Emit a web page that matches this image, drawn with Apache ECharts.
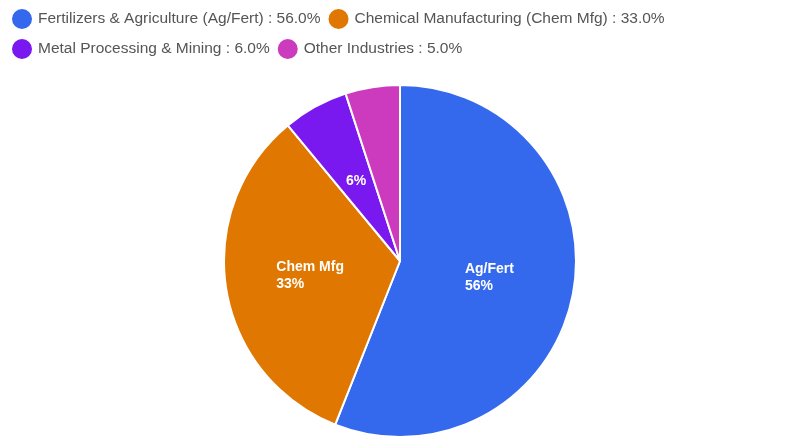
<!DOCTYPE html>
<html>
<head>
<meta charset="utf-8">
<script src="https://cdn.jsdelivr.net/npm/echarts@6/dist/echarts.min.js"></script>
<style>
html,body{margin:0;padding:0;background:#fff;}
#main{width:800px;height:440px;}
</style>
</head>
<body>
<div id="main"></div>
<script>
var names = ['Fertilizers & Agriculture (Ag/Fert)', 'Chemical Manufacturing (Chem Mfg)', 'Metal Processing & Mining', 'Other Industries'];
var shortNames = ['Ag/Fert', 'Chem Mfg', 'Metal', 'Other'];
var values = [56, 33, 6, 5];
var colors = ['#3469EE', '#DF7700', '#7A18F0', '#CC3BBE'];

var data = names.map(function (n, i) {
  return { name: n, value: values[i], shortName: shortNames[i], itemStyle: { color: colors[i] } };
});
var total = values.reduce(function (a, b) { return a + b; }, 0);

var chart = echarts.init(document.getElementById('main'));
chart.setOption({
  animation: false,
  legend: {
    left: 5,
    top: 2,
    width: 720,
    icon: 'circle',
    itemWidth: 22,
    itemHeight: 22,
    itemGap: 6,
    textStyle: { fontFamily: '"Liberation Sans", Arial, sans-serif', fontSize: 15.5, color: '#555', lineHeight: 22 },
    formatter: function (name) {
      var i = names.indexOf(name);
      return name + ' : ' + (values[i] / total * 100).toFixed(1) + '%';
    }
  },
  series: [{
    type: 'pie',
    center: [400, 261],
    radius: 176,
    startAngle: 90,
    clockwise: true,
    data: data,
    itemStyle: { borderColor: '#fff', borderWidth: 2 },
    label: {
      show: true,
      position: 'inside',
      color: '#fff',
      fontWeight: 'bold',
      fontSize: 14,
      fontFamily: 'Arial, Liberation Sans, sans-serif',
      lineHeight: 17,
      formatter: function (p) {
        if (p.percent <= 5) return '';
        if (p.percent < 10) return '{a|' + Math.round(p.percent) + '%}';
        return '{a|' + p.data.shortName + '}\n{a|' + Math.round(p.percent) + '%}';
      },
      rich: {
        a: { align: 'left', color: '#fff', fontWeight: 'bold', fontSize: 14, lineHeight: 17, fontFamily: 'Arial, Liberation Sans, sans-serif' }
      }
    },
    labelLine: { show: false },
    emphasis: { disabled: true }
  }]
});
</script>
</body>
</html>
